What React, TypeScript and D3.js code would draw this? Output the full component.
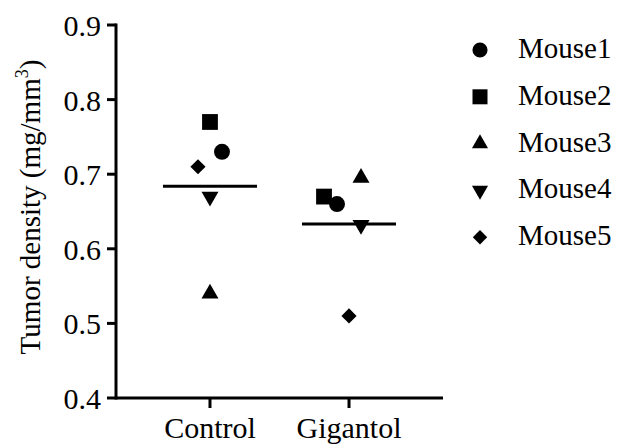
import React from 'react';
import * as d3 from 'd3';

// data
const groups = ['Control', 'Gigantol'];
const mice = ['Mouse1', 'Mouse2', 'Mouse3', 'Mouse4', 'Mouse5'];
const controlValues = [0.73, 0.77, 0.54, 0.67, 0.71];
const gigantolValues = [0.66, 0.67, 0.695, 0.632, 0.51];
const yTicks = [0.4, 0.5, 0.6, 0.7, 0.8, 0.9];

// horizontal scatter offsets (px) so overlapping points stay visible
const controlJitter = [12, 0, 0, 0, -12];
const gigantolJitter = [-12, -25, 12, 12, 0];

const serif = { fontFamily: 'Liberation Serif' };

function markerPath(i: number, size: number) {
  const types = [d3.symbolCircle, d3.symbolSquare, d3.symbolTriangle, d3.symbolTriangle, d3.symbolSquare];
  return d3.symbol().type(types[i]).size(size)() as string;
}
function markerTransform(i: number) {
  if (i === 3) return ' rotate(180)';
  if (i === 4) return ' rotate(45)';
  return '';
}
const markerSizes = [200, 250, 125, 125, 115];

export default function App() {
  const width = 617;
  const height = 444;
  const margin = { top: 25, right: 174, bottom: 46, left: 116 };
  const h = height - margin.top - margin.bottom;

  const x = d3.scalePoint<string>()
    .domain(groups)
    .range([margin.left, width - margin.right])
    .padding(0.676);

  const y = d3.scaleLinear()
    .domain([0.4, 0.9])
    .range([margin.top + h, margin.top]);

  const series = [
    { name: groups[0], values: controlValues, jitter: controlJitter },
    { name: groups[1], values: gigantolValues, jitter: gigantolJitter },
  ];

  const axisY0 = margin.top + h;

  return (
    <svg width={width} height={height}
      style={{ position: 'absolute', left: 0, top: 0, background: '#fff' }}>
      {/* y axis */}
      <line x1={margin.left} x2={margin.left} y1={margin.top - 1.5} y2={axisY0 + 1.5} stroke="#000" strokeWidth={3} />
      {yTicks.map(t => (
        <g key={t} transform={`translate(${margin.left},${y(t)})`}>
          <line x1={-9} x2={0} stroke="#000" strokeWidth={3} />
          <text x={-15} y={11} textAnchor="end" fontSize={30} style={serif} fill="#000">{t.toFixed(1)}</text>
        </g>
      ))}
      {/* x axis */}
      <line x1={margin.left} x2={width - margin.right} y1={axisY0} y2={axisY0} stroke="#000" strokeWidth={3} />
      {groups.map(g => (
        <g key={g} transform={`translate(${x(g)},${axisY0})`}>
          <line y1={0} y2={10} stroke="#000" strokeWidth={3} />
          <text y={40} textAnchor="middle" fontSize={30} style={serif} fill="#000">{g}</text>
        </g>
      ))}
      {/* y title */}
      <text transform={`translate(40,207) rotate(-90)`} textAnchor="middle" fontSize={29} style={serif} fill="#000">
        Tumor density (mg/mm<tspan fontSize={18} dy={-12}>3</tspan><tspan dy={12}>)</tspan>
      </text>
      {/* mean lines and points */}
      {series.map(s => {
        const cx = x(s.name) as number;
        const m = d3.mean(s.values) as number;
        return (
          <g key={s.name}>
            <line x1={cx - 47} x2={cx + 47} y1={y(m)} y2={y(m)} stroke="#000" strokeWidth={3} />
            {s.values.map((v, i) => (
              <path key={i} d={markerPath(i, markerSizes[i])}
                transform={`translate(${cx + s.jitter[i]},${y(v)})${markerTransform(i)}`} fill="#000" />
            ))}
          </g>
        );
      })}
      {/* legend */}
      {mice.map((name, i) => (
        <g key={name} transform={`translate(480,${50 + i * 46.8})`}>
          <path d={markerPath(i, markerSizes[i] * 0.9)} transform={markerTransform(i).trim()} fill="#000" />
          <text x={38} y={8} fontSize={29} style={serif} fill="#000">{name}</text>
        </g>
      ))}
    </svg>
  );
}
